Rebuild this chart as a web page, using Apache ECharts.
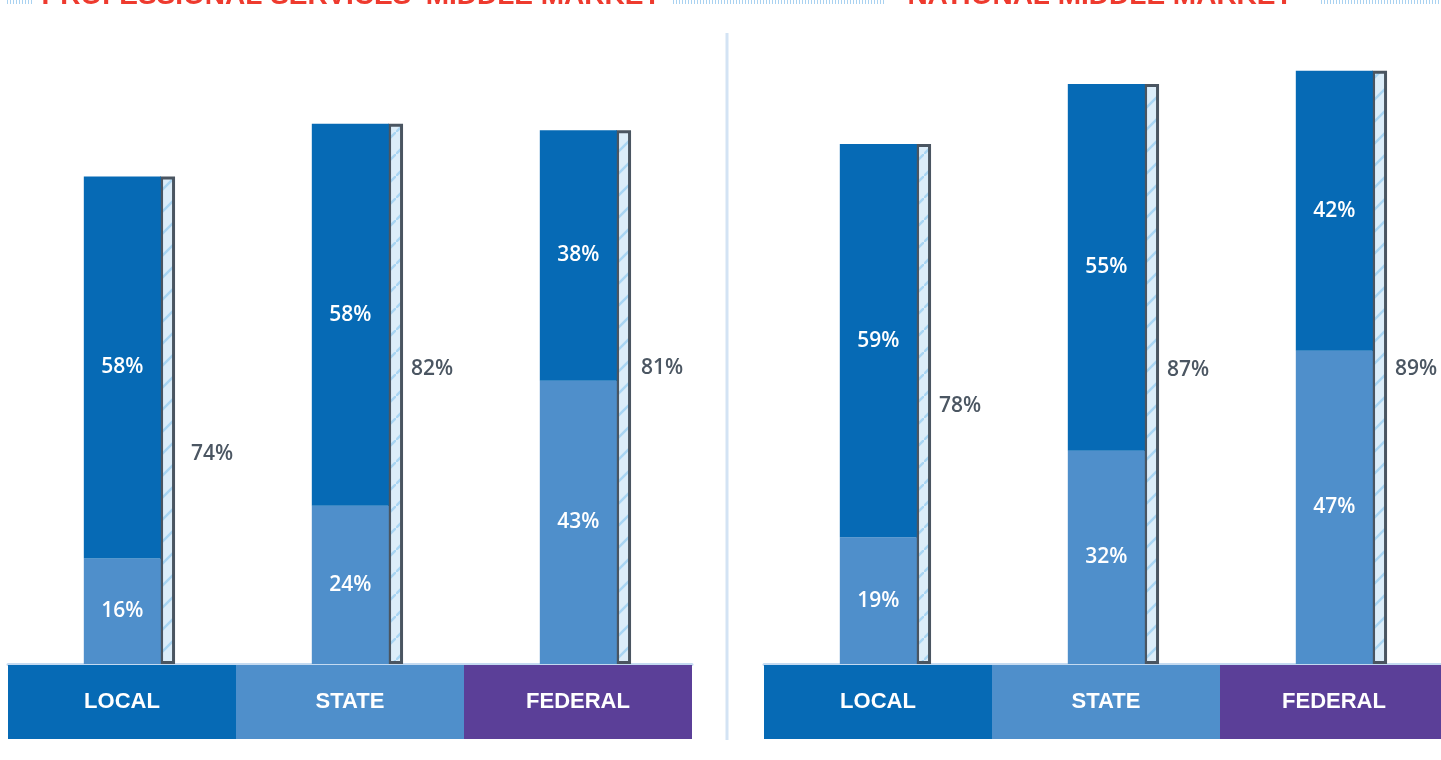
<!DOCTYPE html>
<html lang="en">
<head>
<meta charset="UTF-8">
<title>Middle market</title>
<script src="https://cdn.jsdelivr.net/npm/echarts@6/dist/echarts.min.js"></script>
<style>
  html, body { margin: 0; padding: 0; background: #fff; }
  #main { width: 1441px; height: 760px; }
</style>
</head>
<body>
<div id="main"></div>
<script>
// data
var categories = ['LOCAL', 'STATE', 'FEDERAL'];
var titles = ["PROFESSIONAL SERVICES' MIDDLE MARKET", 'NATIONAL MIDDLE MARKET'];
var proBase = [16, 24, 43];
var proTop = [58, 58, 38];
var proTotal = [74, 82, 81];
var natBase = [19, 32, 47];
var natTop = [59, 55, 42];
var natTotal = [78, 87, 89];

var darkBlue = '#066ab5';
var lightBlue = '#4f8fcb';
var purple = '#5b3f98';
var outline = '#4a5561';
var bandColors = [darkBlue, lightBlue, purple];
var labelFont = '"Open Sans", sans-serif';
var capsFont = '"Liberation Sans", Arial, sans-serif';

// diagonal stripes for the total bar
var tile = document.createElement('canvas');
tile.width = 22; tile.height = 22;
var tc = tile.getContext('2d');
tc.fillStyle = '#dcedf9';
tc.fillRect(0, 0, 22, 22);
tc.strokeStyle = '#a9d5f3';
tc.lineWidth = 2.5;
tc.beginPath();
tc.moveTo(-3, 25); tc.lineTo(25, -3);
tc.stroke();

var myChart = echarts.init(document.getElementById('main'));

var rich = {};
categories.forEach(function (c, i) {
    rich['c' + i] = {
        backgroundColor: bandColors[i],
        width: 228,
        height: 74,
        lineHeight: 74,
        align: 'center',
        color: '#fff',
        fontFamily: capsFont,
        fontWeight: 'bold',
        fontSize: 22
    };
});

function xAxisFor(idx) {
    return {
        type: 'category',
        gridIndex: idx,
        data: categories,
        axisLine: { lineStyle: { color: '#c4daf1', width: 3 } },
        axisTick: { show: false },
        axisLabel: {
            interval: 0,
            margin: 1,
            formatter: function (v, i) { return '{c' + i + '|' + v + '}'; },
            rich: rich
        }
    };
}

function yAxisFor(idx) {
    return {
        type: 'value', gridIndex: idx, min: 0, max: 90,
        axisLine: { show: false }, axisTick: { show: false },
        axisLabel: { show: false }, splitLine: { show: false }
    };
}

// nudge of the total labels [dx, dy], as in the original layout
var totalShift = [
    [[8, 34], [0, -25], [2, -29]],
    [[0, 2], [0, -4], [0, 2]]
];

function seriesFor(idx, base, top, total) {
    var inner = {
        show: true, position: 'inside', color: '#fff',
        fontFamily: labelFont, fontWeight: 600, fontSize: 21,
        formatter: '{c}%'
    };
    return [
        { // spacer keeps the stacked bar centred on its category
            type: 'bar', xAxisIndex: idx, yAxisIndex: idx, barWidth: 15, barGap: '-1%',
            data: categories.map(function () { return '-'; }),
            itemStyle: { color: 'transparent' }, silent: true
        },
        {
            type: 'bar', xAxisIndex: idx, yAxisIndex: idx, stack: 's' + idx, barWidth: 77, barGap: '-1%',
            z: 3, data: base, itemStyle: { color: lightBlue }, label: inner, silent: true
        },
        {
            type: 'bar', xAxisIndex: idx, yAxisIndex: idx, stack: 's' + idx, barWidth: 77, barGap: '-1%',
            z: 3, data: top, itemStyle: { color: darkBlue }, label: inner, silent: true
        },
        {
            type: 'bar', xAxisIndex: idx, yAxisIndex: idx, barWidth: 15, barGap: '-1%', z: 2,
            data: total.map(function (v, i) {
                return { value: v, label: { offset: totalShift[idx][i] } };
            }),
            itemStyle: { color: { image: tile, repeat: 'repeat' }, borderColor: outline, borderWidth: 3 },
            label: {
                show: true, position: 'right', distance: 8, color: '#4b5662',
                fontFamily: labelFont, fontWeight: 600, fontSize: 21, formatter: '{c}%'
            },
            silent: true
        }
    ];
}

function dotted(x1, x2) {
    return {
        type: 'line', silent: true,
        shape: { x1: x1, y1: 2, x2: x2, y2: 2 },
        style: { stroke: '#a9d2f1', lineWidth: 4, lineDash: [1, 2] }
    };
}

function titleText(x, text) {
    return {
        type: 'text', silent: true, x: x, y: -4,
        style: {
            text: text, fill: '#ee3a2e', font: 'bold 28px "Liberation Sans", Arial, sans-serif',
            textAlign: 'center', textVerticalAlign: 'middle'
        }
    };
}

myChart.setOption({
    animation: false,
    grid: [
        { left: 8, width: 684, bottom: 96, top: 71, outerBoundsMode: 'none' },
        { left: 764, width: 684, bottom: 96, top: 64, outerBoundsMode: 'none' }
    ],
    xAxis: [xAxisFor(0), xAxisFor(1)],
    yAxis: [yAxisFor(0), yAxisFor(1)],
    series: seriesFor(0, proBase, proTop, proTotal).concat(seriesFor(1, natBase, natTop, natTotal)),
    graphic: [
        dotted(7, 32), dotted(673, 885), dotted(1321, 1441),
        titleText(351, titles[0]), titleText(1100, titles[1]),
        {
            type: 'line', silent: true,
            shape: { x1: 727, y1: 33, x2: 727, y2: 740 },
            style: { stroke: '#d3e3f4', lineWidth: 3 }
        }
    ]
});
</script>
</body>
</html>
